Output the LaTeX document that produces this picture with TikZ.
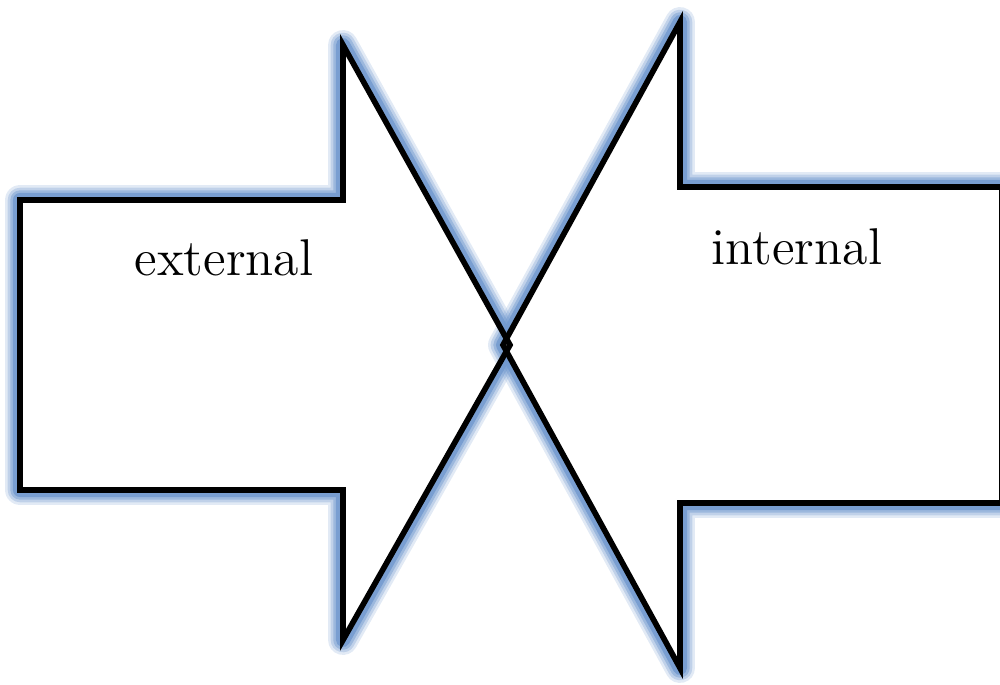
\documentclass[tikz,border=0pt]{standalone}
\usetikzlibrary{positioning}
\definecolor{glowblue}{RGB}{112,152,206}
\newcommand{\extshape}{(20,200) -- (343,200) -- (343,45) -- (510,345) -- (343,640) -- (343,490) -- (20,490) -- cycle}
\newcommand{\intshape}{(1002,187) -- (680,187) -- (680,22) -- (503,345) -- (680,668) -- (680,503) -- (1002,503) -- cycle}

\begin{document}
\begin{tikzpicture}[
  x=0.01cm, y=-0.01cm,
  outline/.style={draw=black, line width=1.6pt, line join=miter, miter limit=10},
  glow/.style={draw=glowblue, line join=round, line cap=round},
  label/.style={font=\fontsize{14.7}{17}\selectfont, inner sep=0pt}
]
\useasboundingbox (0,0) rectangle (1000,685);
% outer glow, then white body
\foreach \w/\o in {8.5/0.2, 7/0.3, 5.5/0.45, 4/0.8}
  \path[glow, line width=\w pt, draw opacity=\o] \extshape;
\fill[white] \extshape;
\foreach \w/\o in {8.5/0.2, 7/0.3, 5.5/0.45, 4/0.8}
  \path[glow, line width=\w pt, draw opacity=\o] \intshape;
\fill[white] \intshape;
% outlines
\path[outline] \extshape;
\path[outline] \intshape;
\node[label] (external) at (224,258) {external};
\node[label] (internal) at (797,247) {internal};
\end{tikzpicture}
\end{document}
